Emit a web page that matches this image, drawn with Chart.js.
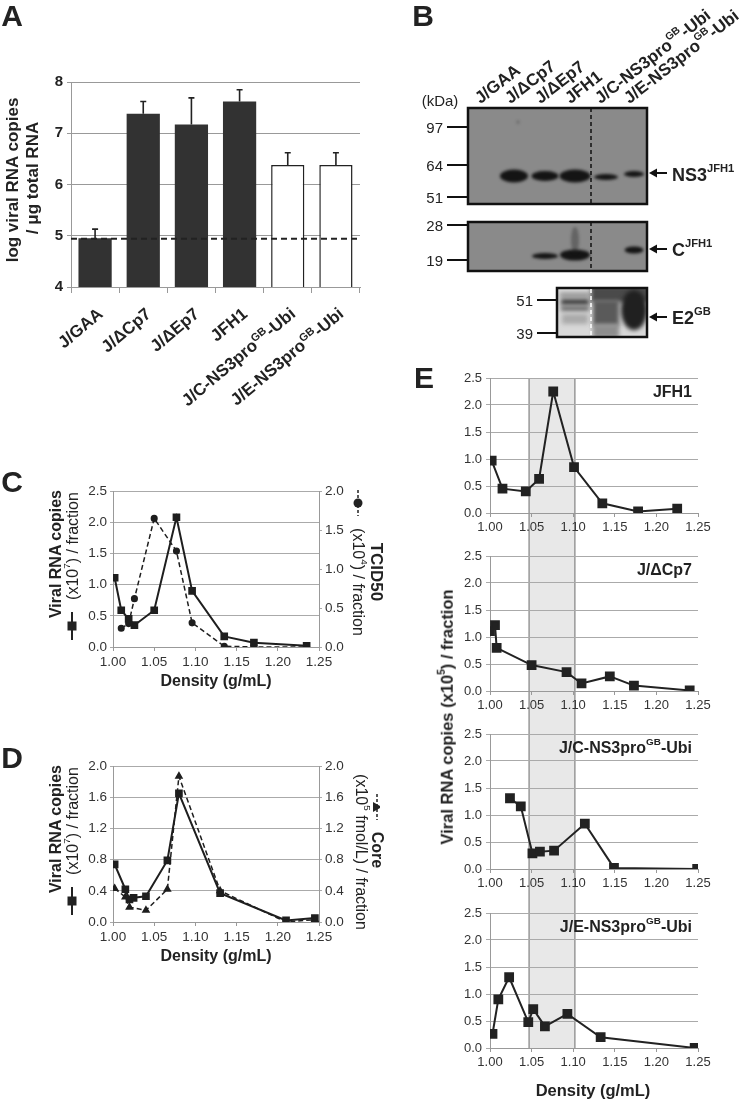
<!DOCTYPE html>
<html>
<head>
<meta charset="utf-8">
<script src="https://cdn.jsdelivr.net/npm/chart.js@4"></script>
<style>
  html, body { margin: 0; padding: 0; background: #fff; }
  #page { position: relative; width: 750px; height: 1100px; overflow: hidden;
          font-family: "Liberation Sans", Arial, Helvetica, sans-serif; color: #222; }
  canvas { position: absolute; }
  .t { position: absolute; white-space: nowrap; line-height: 1; }
  .t sup { font-size: 0.62em; position: relative; top: -0.15em; vertical-align: super; line-height: 0; }
</style>
</head>
<body>
<div id="page">
  <canvas id="chartA" style="left:0px;top:0px" width="380" height="420"></canvas>
  <canvas id="blot" style="left:380px;top:0px" width="370" height="345"></canvas>
  <canvas id="chartC" style="left:0px;top:480px" width="380" height="210"></canvas>
  <canvas id="chartD" style="left:0px;top:755px" width="380" height="210"></canvas>
  <canvas id="chartE0" style="left:400px;top:360px" width="350" height="178"></canvas>
  <canvas id="chartE1" style="left:400px;top:538px" width="350" height="178"></canvas>
  <canvas id="chartE2" style="left:400px;top:716px" width="350" height="179"></canvas>
  <canvas id="chartE3" style="left:400px;top:895px" width="350" height="205"></canvas>
</div>
<script>
// ---- data ----
const aCategories = ["J/GAA", "J/ΔCp7", "J/ΔEp7", "JFH1", "J/C-NS3pro<sup>GB</sup>-Ubi", "J/E-NS3pro<sup>GB</sup>-Ubi"];
const aMeans = [4.95, 7.38, 7.17, 7.62, 6.38, 6.38];
const aErrors = [0.18, 0.24, 0.52, 0.23, 0.24, 0.24];
const aDetectionLimit = 4.94;
const aTicks = [4, 5, 6, 7, 8];

const densityTicks = [1.00, 1.05, 1.10, 1.15, 1.20, 1.25];

const cRnaDensity = [1.002, 1.010, 1.019, 1.026, 1.050, 1.077, 1.096, 1.135, 1.171, 1.235];
const cRna = [1.11, 0.59, 0.45, 0.35, 0.59, 2.08, 0.90, 0.17, 0.07, 0.02];
const cTcidDensity = [1.010, 1.019, 1.026, 1.050, 1.077, 1.096, 1.135, 1.171, 1.235];
const cTcid = [0.24, 0.30, 0.62, 1.65, 1.23, 0.31, 0.01, 0.0, 0.0];
const cLeftTicks = [0, 0.5, 1.0, 1.5, 2.0, 2.5];
const cRightTicks = [0, 0.5, 1.0, 1.5, 2.0];

const dRnaDensity = [1.002, 1.015, 1.020, 1.025, 1.040, 1.066, 1.080, 1.130, 1.210, 1.245];
const dRna = [0.74, 0.42, 0.29, 0.31, 0.33, 0.79, 1.65, 0.37, 0.02, 0.05];
const dCoreDensity = [1.002, 1.015, 1.020, 1.040, 1.066, 1.080, 1.130, 1.210, 1.245];
const dCore = [0.43, 0.32, 0.19, 0.15, 0.42, 1.87, 0.40, 0.00, 0.03];
const dTicks = [0, 0.4, 0.8, 1.2, 1.6, 2.0];

const eTitles = ["JFH1", "J/ΔCp7", "J/C-NS3pro<sup>GB</sup>-Ubi", "J/E-NS3pro<sup>GB</sup>-Ubi"];
const eJfh1Density = [1.002, 1.015, 1.043, 1.059, 1.076, 1.101, 1.135, 1.178, 1.225];
const eJfh1 = [0.97, 0.45, 0.40, 0.63, 2.25, 0.85, 0.18, 0.03, 0.08];
const eCp7Density = [1.000, 1.006, 1.008, 1.050, 1.092, 1.110, 1.144, 1.173, 1.240];
const eCp7 = [1.11, 1.22, 0.80, 0.48, 0.35, 0.14, 0.27, 0.10, 0.01];
const eCDensity = [1.024, 1.037, 1.051, 1.060, 1.077, 1.114, 1.149, 1.249];
const eC = [1.31, 1.16, 0.29, 0.32, 0.34, 0.84, 0.02, 0.0];
const eEDensity = [1.003, 1.010, 1.023, 1.046, 1.052, 1.066, 1.093, 1.133, 1.246];
const eE = [0.26, 0.90, 1.31, 0.48, 0.72, 0.40, 0.63, 0.20, 0.0];
const eTicks = [0, 0.5, 1.0, 1.5, 2.0, 2.5];
const eBand = [1.047, 1.102];

// western blot (panel B): marker sizes in kDa
const bMarkersTop = [["97", 127], ["64", 165], ["51", 197]];
const bMarkersMid = [["28", 225], ["19", 260]];
const bMarkersLow = [["51", 300], ["39", 333]];

// ---- helpers ----
const FONT = '"Liberation Sans", Arial, Helvetica, sans-serif';
Chart.defaults.font.family = FONT;
Chart.defaults.color = '#333';
Chart.defaults.animation = false;
Chart.defaults.plugins.legend.display = false;
Chart.defaults.plugins.tooltip.enabled = false;

const page = document.getElementById('page');

function put(html, x, y, o = {}) {
  const d = document.createElement('div');
  d.className = 't';
  d.innerHTML = html;
  d.style.left = x + 'px';
  d.style.top = y + 'px';
  d.style.fontSize = (o.size || 16) + 'px';
  d.style.fontWeight = o.bold ? 'bold' : 'normal';
  if (o.anchor === 'left') {
    d.style.transformOrigin = '0 50%';
    d.style.transform = `translate(0,-50%) rotate(${o.rot || 0}deg)`;
  } else if (o.anchor === 'right') {
    d.style.transformOrigin = '100% 50%';
    d.style.transform = `translate(-100%,-50%) rotate(${o.rot || 0}deg)`;
  } else {
    d.style.transform = `translate(-50%,-50%) rotate(${o.rot || 0}deg)`;
  }
  page.appendChild(d);
  return d;
}

function richParts(s) {
  return s.split(/<\/?sup>/).map((t, i) => ({ t, sup: i % 2 === 1 }));
}

function fixedTicks(list) {
  return scale => { scale.ticks = list.map(v => ({ value: v })); };
}

function drawRichRight(ctx, text, x, y, angle, size) {
  const parts = richParts(text);
  const big = `bold ${size}px ${FONT}`, small = `bold ${Math.round(size * 0.62)}px ${FONT}`;
  ctx.save();
  ctx.translate(x, y);
  ctx.rotate(angle);
  let w = 0;
  parts.forEach(p => { ctx.font = p.sup ? small : big; w += ctx.measureText(p.t).width; });
  let cx = -w;
  ctx.fillStyle = '#222';
  ctx.textBaseline = 'alphabetic';
  parts.forEach(p => {
    ctx.font = p.sup ? small : big;
    ctx.fillText(p.t, cx, p.sup ? size * 0.35 - size * 0.38 : size * 0.35);
    cx += ctx.measureText(p.t).width;
  });
  ctx.restore();
}

function densityAxis(size, h) {
  return {
    type: 'linear', min: 1.0, max: 1.25,
    afterBuildTicks: fixedTicks(densityTicks),
    ticks: { callback: v => v.toFixed(2), font: { size }, color: '#333', padding: 3, maxRotation: 0, autoSkip: false },
    grid: { drawOnChartArea: false, color: '#999', tickLength: 4 },
    border: { color: '#999' },
    afterFit: s => { s.height = h; }
  };
}

function valueAxis(ticks, max, w, pos, onArea, size) {
  return {
    type: 'linear', position: pos, min: 0, max,
    afterBuildTicks: fixedTicks(ticks),
    ticks: { callback: v => v.toFixed(1), font: { size }, color: '#333', padding: 3 },
    grid: { drawOnChartArea: onArea, color: '#aaa', tickLength: 3 },
    border: { color: '#999' },
    afterFit: s => { s.width = w; }
  };
}

function pts(xs, ys) { return xs.map((x, i) => ({ x, y: ys[i] })); }

// ---- panel A ----
const aPlugin = {
  id: 'aExtras',
  afterDatasetsDraw(chart) {
    const { ctx, chartArea, scales: { x, y } } = chart;
    const meta = chart.getDatasetMeta(0);
    ctx.save();
    ctx.strokeStyle = '#222';
    ctx.lineWidth = 1.6;
    meta.data.forEach((bar, i) => {
      const yt = y.getPixelForValue(aMeans[i] + aErrors[i]);
      ctx.beginPath();
      ctx.moveTo(bar.x, bar.y);
      ctx.lineTo(bar.x, yt);
      ctx.moveTo(bar.x - 3, yt);
      ctx.lineTo(bar.x + 3, yt);
      ctx.stroke();
    });
    const yl = y.getPixelForValue(aDetectionLimit);
    ctx.setLineDash([6, 4]);
    ctx.lineWidth = 2;
    ctx.beginPath();
    ctx.moveTo(chartArea.left, yl);
    ctx.lineTo(chartArea.right, yl);
    ctx.stroke();
    ctx.restore();
    aCategories.forEach((lab, i) => {
      drawRichRight(ctx, lab, x.getPixelForValue(i) + 5, 311, -40 * Math.PI / 180, 17);
    });
  }
};

new Chart(document.getElementById('chartA'), {
  type: 'bar',
  data: {
    labels: aCategories,
    datasets: [{
      data: aMeans,
      backgroundColor: aMeans.map((v, i) => i < 4 ? '#323232' : '#ffffff'),
      borderColor: '#222',
      borderWidth: aMeans.map((v, i) => i < 4 ? 0 : 1.5),
      categoryPercentage: 1,
      barPercentage: 0.69
    }]
  },
  options: {
    responsive: false, devicePixelRatio: 1,
    layout: { padding: { left: 0, top: 82, right: 20, bottom: 113 } },
    scales: {
      x: {
        ticks: { display: false },
        grid: { offset: true, drawOnChartArea: false, tickLength: 6, color: '#999' },
        border: { color: '#999' },
        afterFit: s => { s.height = 20; }
      },
      y: {
        min: 4, max: 8,
        afterBuildTicks: fixedTicks(aTicks),
        ticks: { font: { size: 15, weight: 'bold' }, color: '#222', padding: 4 },
        grid: { color: '#999', tickLength: 4 },
        border: { color: '#999' },
        afterFit: s => { s.width = 71; }
      }
    }
  },
  plugins: [aPlugin]
});

put('A', 12, 16, { size: 30, bold: true });
put('log viral RNA copies', 12, 180, { size: 17, bold: true, rot: -90 });
put('/ μg total RNA', 32, 178, { size: 17, bold: true, rot: -90 });

// ---- panel B (blot image) ----
function ellipse(ctx, x, y, w, h) {
  ctx.beginPath();
  ctx.ellipse(x, y, w / 2, h / 2, 0, 0, Math.PI * 2);
  ctx.fill();
}

function drawBlot() {
  const ctx = document.getElementById('blot').getContext('2d');
  ctx.translate(-380, 0);
  ctx.fillStyle = '#8a8a8a';
  ctx.fillRect(468, 108, 179, 96);
  ctx.fillRect(468, 222, 179, 49);

  ctx.save();
  ctx.beginPath(); ctx.rect(468, 108, 179, 96); ctx.rect(468, 222, 179, 49); ctx.clip();
  ctx.filter = 'blur(1.5px)';
  ctx.fillStyle = '#141414';
  ellipse(ctx, 514, 176, 28, 13);
  ellipse(ctx, 545, 176, 27, 10);
  ellipse(ctx, 575, 176, 31, 13);
  ellipse(ctx, 606, 177, 24, 6);
  ellipse(ctx, 634, 174, 20, 6);
  ellipse(ctx, 545, 256, 26, 6);
  ellipse(ctx, 575, 255, 30, 11);
  ellipse(ctx, 634, 250, 19, 7);
  ctx.fillStyle = 'rgba(30,30,30,0.35)';
  ellipse(ctx, 575, 240, 8, 26);
  ellipse(ctx, 518, 122, 3, 3);
  ctx.restore();

  // lower blot
  ctx.save();
  ctx.beginPath(); ctx.rect(557, 288, 90, 49); ctx.clip();
  ctx.fillStyle = '#d8d8d8';
  ctx.fillRect(557, 288, 90, 49);
  ctx.filter = 'blur(2px)';
  ctx.fillStyle = '#8a8a8a'; ctx.fillRect(560, 293, 30, 4);
  ctx.fillStyle = '#3c3c3c'; ctx.fillRect(561, 299, 28, 6);
  ctx.fillStyle = '#666'; ctx.fillRect(561, 306, 28, 5);
  ctx.fillStyle = '#aaa'; ctx.fillRect(562, 314, 26, 10);
  ctx.fillStyle = '#4a4a4a'; ctx.fillRect(591, 286, 60, 16);
  ctx.fillStyle = '#5a5a5a'; ctx.fillRect(593, 300, 26, 26);
  ctx.fillStyle = '#8e8e8e'; ctx.fillRect(593, 324, 26, 14);
  ctx.fillStyle = '#202020'; ellipse(ctx, 634, 310, 26, 40);
  ctx.restore();

  ctx.strokeStyle = '#111';
  ctx.lineWidth = 2.5;
  ctx.strokeRect(468, 108, 179, 96);
  ctx.strokeRect(468, 222, 179, 49);
  ctx.strokeRect(557, 288, 90, 49);

  ctx.lineWidth = 1.5;
  ctx.setLineDash([4, 3]);
  [[108, 204], [222, 271]].forEach(([a, b]) => {
    ctx.beginPath(); ctx.moveTo(591, a); ctx.lineTo(591, b); ctx.stroke();
  });
  ctx.strokeStyle = '#fff';
  ctx.beginPath(); ctx.moveTo(591, 289); ctx.lineTo(591, 336); ctx.stroke();
  ctx.setLineDash([]);

  ctx.strokeStyle = '#111';
  ctx.lineWidth = 2;
  bMarkersTop.concat(bMarkersMid).forEach(([, y]) => {
    ctx.beginPath(); ctx.moveTo(447, y); ctx.lineTo(468, y); ctx.stroke();
  });
  bMarkersLow.forEach(([, y]) => {
    ctx.beginPath(); ctx.moveTo(537, y); ctx.lineTo(557, y); ctx.stroke();
  });

  ctx.fillStyle = '#111';
  [173, 249, 317].forEach(y => {
    ctx.beginPath(); ctx.moveTo(651, y); ctx.lineTo(667, y); ctx.stroke();
    ctx.beginPath(); ctx.moveTo(649, y); ctx.lineTo(657, y - 4.5); ctx.lineTo(657, y + 4.5); ctx.closePath(); ctx.fill();
  });
}
drawBlot();

put('B', 423, 16, { size: 30, bold: true });
put('(kDa)', 440, 100, { size: 15 });
bMarkersTop.concat(bMarkersMid).forEach(([t, y]) => put(t, 443, y, { size: 15, anchor: 'right' }));
bMarkersLow.forEach(([t, y]) => put(t, 533, y, { size: 15, anchor: 'right' }));
const bLanes = [485, 515, 545, 575, 605, 634];
aCategories.forEach((lab, i) => put(lab, bLanes[i] - 8, 100, { size: 17, bold: true, rot: -38, anchor: 'left' }));
put('NS3<sup>JFH1</sup>', 672, 175, { size: 18, bold: true, anchor: 'left' });
put('C<sup>JFH1</sup>', 672, 250, { size: 18, bold: true, anchor: 'left' });
put('E2<sup>GB</sup>', 672, 318, { size: 18, bold: true, anchor: 'left' });

// ---- panels C and D ----
function symbolPlugin(left, right) {
  return {
    id: 'symbols',
    afterDraw(chart) {
      const ctx = chart.ctx;
      ctx.save();
      ctx.strokeStyle = '#222';
      ctx.fillStyle = '#222';
      ctx.lineWidth = 2;
      ctx.beginPath(); ctx.moveTo(left.x, left.y - 14); ctx.lineTo(left.x, left.y + 14); ctx.stroke();
      ctx.fillRect(left.x - 4.5, left.y - 4.5, 9, 9);
      ctx.lineWidth = 1.5;
      ctx.setLineDash([3, 2]);
      ctx.beginPath(); ctx.moveTo(right.x, right.y - 13); ctx.lineTo(right.x, right.y + 13); ctx.stroke();
      ctx.setLineDash([]);
      ctx.beginPath();
      if (right.shape === 'circle') {
        ctx.arc(right.x, right.y, 4.5, 0, Math.PI * 2);
      } else {
        ctx.moveTo(right.x + 5, right.y); ctx.lineTo(right.x - 4, right.y - 5); ctx.lineTo(right.x - 4, right.y + 5); ctx.closePath();
      }
      ctx.fill();
      ctx.restore();
    }
  };
}

function dualChart(id, solid, dashed, leftTicks, leftMax, rightTicks, rightMax, dashedStyle, dashedRadius, sym) {
  return new Chart(document.getElementById(id), {
    type: 'line',
    data: {
      datasets: [
        { data: solid, yAxisID: 'y', borderColor: '#1e1e1e', backgroundColor: '#1e1e1e', borderWidth: 2,
          pointStyle: 'rect', pointRadius: 4, tension: 0 },
        { data: dashed, yAxisID: 'y2', borderColor: '#1e1e1e', backgroundColor: '#1e1e1e', borderWidth: 1.5,
          borderDash: [5, 3], pointStyle: dashedStyle, pointRadius: dashedRadius, tension: 0 }
      ]
    },
    options: {
      responsive: false, devicePixelRatio: 1,
      layout: { padding: { left: 0, top: 11, right: 0, bottom: 18 } },
      scales: {
        x: densityAxis(13.5, 25),
        y: valueAxis(leftTicks, leftMax, 113, 'left', true, 13.5),
        y2: valueAxis(rightTicks, rightMax, 61, 'right', false, 13.5)
      }
    },
    plugins: [symbolPlugin(sym.left, sym.right)]
  });
}

dualChart('chartC', pts(cRnaDensity, cRna), pts(cTcidDensity, cTcid), cLeftTicks, 2.5, cRightTicks, 2.0,
  'circle', 2.8, { left: { x: 72, y: 146 }, right: { x: 358, y: 23, shape: 'circle' } });
dualChart('chartD', pts(dRnaDensity, dRna), pts(dCoreDensity, dCore), dTicks, 2.0, dTicks, 2.0,
  'triangle', 3.5, { left: { x: 72, y: 146 }, right: { x: 377, y: 52, shape: 'triangle' } });

put('C', 12, 482, { size: 30, bold: true });
put('Viral RNA copies', 56, 554, { size: 16, bold: true, rot: -90 });
put('(x10<sup>7</sup>) / fraction', 73, 546, { size: 16, rot: -90 });
put('(x10<sup>4</sup>) / fraction', 358, 582, { size: 16, rot: 90 });
put('TCID50', 376, 572, { size: 17, bold: true, rot: 90 });
put('Density (g/mL)', 216, 681, { size: 16, bold: true });

put('D', 12, 758, { size: 30, bold: true });
put('Viral RNA copies', 56, 829, { size: 16, bold: true, rot: -90 });
put('(x10<sup>7</sup>) / fraction', 73, 821, { size: 16, rot: -90 });
put('(x10<sup>5</sup> fmol/L) / fraction', 361, 852, { size: 16, rot: 90 });
put('Core', 377, 850, { size: 16, bold: true, rot: 90 });
put('Density (g/mL)', 216, 956, { size: 16, bold: true });

// ---- panel E ----
const bandPlugin = {
  id: 'band',
  beforeDraw(chart, args, opts) {
    const { ctx, chartArea, scales: { x } } = chart;
    const x0 = x.getPixelForValue(eBand[0]), x1 = x.getPixelForValue(eBand[1]);
    const top = opts.first ? chartArea.top : 0;
    const bottom = opts.last ? chartArea.bottom : chart.height;
    ctx.save();
    ctx.fillStyle = '#e8e8e8';
    ctx.fillRect(x0, top, x1 - x0, bottom - top);
    ctx.strokeStyle = '#999';
    ctx.lineWidth = 1.5;
    ctx.beginPath();
    ctx.moveTo(x0, top); ctx.lineTo(x0, bottom);
    ctx.moveTo(x1, top); ctx.lineTo(x1, bottom);
    ctx.stroke();
    ctx.restore();
  }
};

const eSeries = [[eJfh1Density, eJfh1], [eCp7Density, eCp7], [eCDensity, eC], [eEDensity, eE]];
const ePlotTops = [378, 556, 734, 913];
eSeries.forEach(([xs, ys], i) => {
  const last = i === 3;
  new Chart(document.getElementById('chartE' + i), {
    type: 'line',
    data: {
      datasets: [{ data: pts(xs, ys), borderColor: '#222', backgroundColor: '#222', borderWidth: 2,
        pointStyle: 'rect', pointRadius: 5.5, tension: 0 }]
    },
    options: {
      responsive: false, devicePixelRatio: 1,
      layout: { padding: { left: 0, top: 18, right: 52, bottom: last ? 27 : (i === 2 ? 1 : 0) } },
      scales: {
        x: densityAxis(13, 25),
        y: {
          min: 0, max: 2.5,
          afterBuildTicks: fixedTicks(eTicks),
          ticks: { callback: v => v.toFixed(1), font: { size: 13 }, color: '#333', padding: 4 },
          grid: { color: '#aaa', tickLength: 4 },
          border: { color: '#999' },
          afterFit: s => { s.width = 90; }
        }
      },
      plugins: { band: { first: i === 0, last } }
    },
    plugins: [bandPlugin]
  });
  put(eTitles[i], 692, ePlotTops[i] + 14, { size: 16, bold: true, anchor: 'right' });
});

put('E', 424, 378, { size: 30, bold: true });
put('Viral RNA copies (x10<sup>5</sup>) / fraction', 447, 717, { size: 16.5, bold: true, rot: -90 });
put('Density (g/mL)', 593, 1090, { size: 16.5, bold: true });
</script>
</body>
</html>
